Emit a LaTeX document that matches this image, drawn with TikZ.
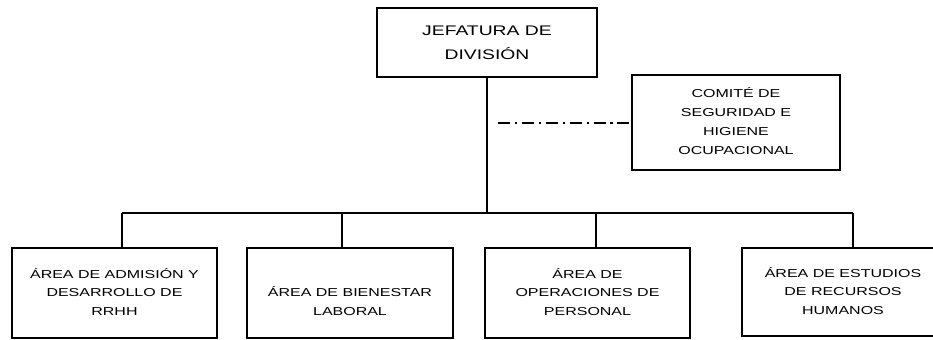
\documentclass[tikz,border=0pt]{standalone}
\usepackage{fontspec}
\setmainfont{Liberation Sans}
\usepackage{graphicx}
% box text, squeezed in height like the scan
\newcommand{\orgtext}[3]{\scalebox{1}[0.72]{\fontsize{#1}{#2}\selectfont\begin{tabular}{@{}c@{}}#3\end{tabular}}}
\begin{document}
\begin{tikzpicture}[x=0.02cm,y=-0.02cm,
    orgbox/.style={draw,line width=1.2pt,inner sep=0pt},
    link/.style={line width=1.5pt},
    dashdotline/.style={line width=1.2pt,dash pattern=on 6.8pt off 2.8pt on 1.2pt off 2.8pt}]
            \clip (0,0) rectangle (933,340);

            % Drawing box jefe
            \node [orgbox,minimum width=4.40cm,minimum height=1.38cm] (jefe) at (487,42.5) {\orgtext{11}{19}{JEFATURA DE\\DIVISIÓN}};%

            % Drawing box comite
            \node [orgbox,minimum width=4.16cm,minimum height=1.90cm] (comite) at (736,122.5) {\orgtext{9.1}{15}{COMITÉ DE\\SEGURIDAD E\\HIGIENE\\OCUPACIONAL}};%

            % Drawing boxes of the areas
            \node [orgbox,minimum width=4.10cm,minimum height=1.80cm] (admision) at (114.5,293) {\orgtext{9.1}{14.6}{ÁREA DE ADMISIÓN Y\\DESARROLLO DE\\RRHH}};%
            \node [orgbox,minimum width=4.12cm,minimum height=1.80cm] (bienestar) at (350,293) {\orgtext{9.1}{14.6}{~\\ÁREA DE BIENESTAR\\LABORAL}};%
            \node [orgbox,minimum width=4.10cm,minimum height=1.80cm] (operaciones) at (587.5,293) {\orgtext{9.1}{14.6}{ÁREA DE\\OPERACIONES DE\\PERSONAL}};%
            \node [orgbox,minimum width=4.04cm,minimum height=1.76cm] (estudios) at (843,292) {\orgtext{9.1}{14.6}{ÁREA DE ESTUDIOS\\DE RECURSOS\\HUMANOS}};%

            % Marking points on the bus
            \coordinate (busA) at (122,213);%
            \coordinate (busB) at (342,213);%
            \coordinate (busC) at (596,213);%
            \coordinate (busD) at (853,213);%
            \coordinate (dd) at (498,123);%

            % Drawing line bus
            \draw [link] (busA) -- (busD);%
            \draw [link] (jefe.south) -- (jefe.south |- busA);%

            % Drawing drops
            \draw [link] (busA) -- (busA |- admision.north);%
            \draw [link] (busB) -- (busB |- bienestar.north);%
            \draw [link] (busC) -- (busC |- operaciones.north);%
            \draw [link] (busD) -- (busD |- estudios.north);%

            % Drawing line to comite
            \draw [dashdotline] (dd) -- (dd -| comite.west);%
\end{tikzpicture}
\end{document}
